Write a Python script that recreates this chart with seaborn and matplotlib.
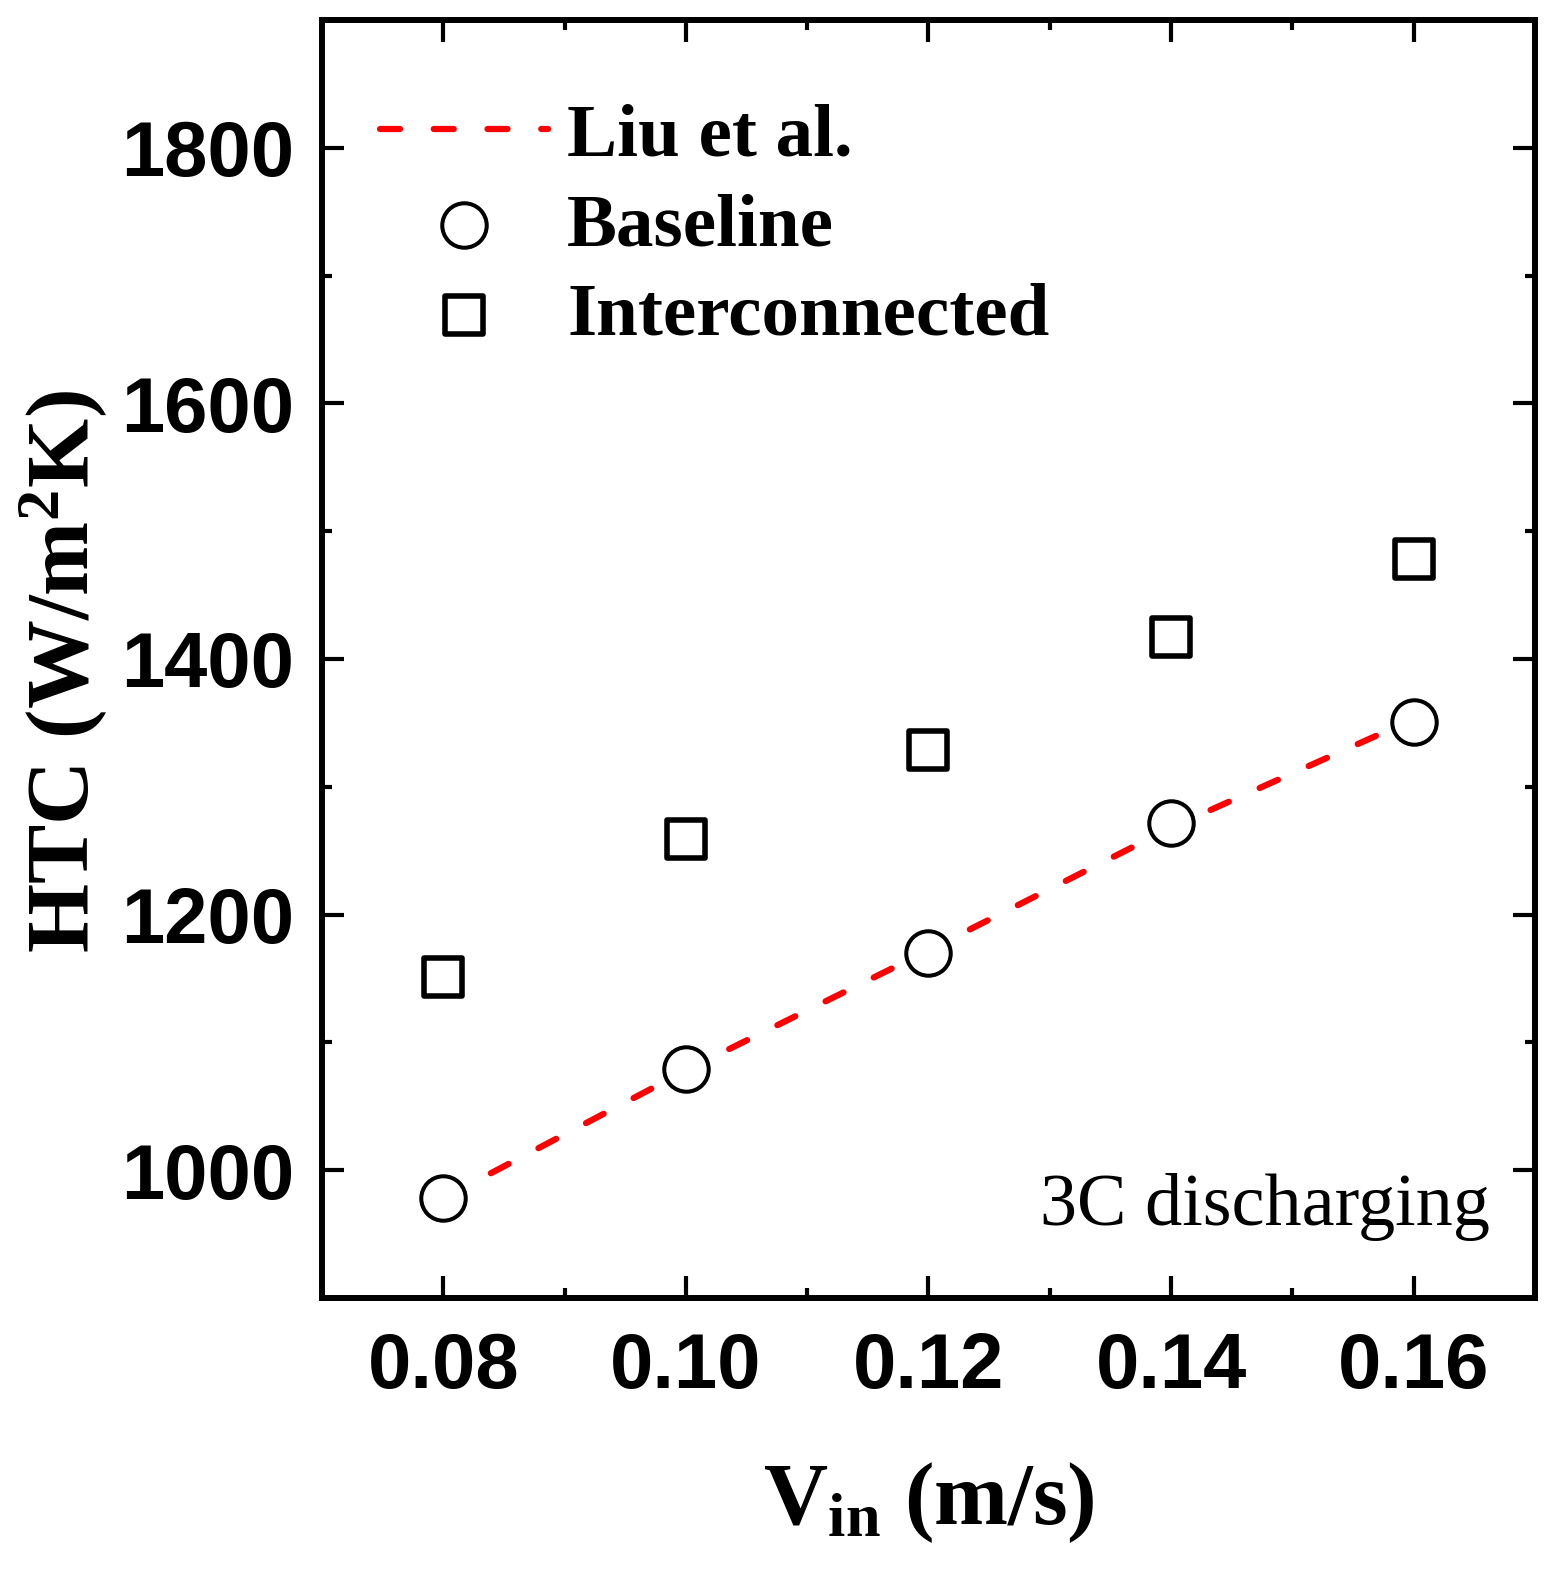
import pandas as pd
import matplotlib
matplotlib.use('Agg')
import matplotlib.pyplot as plt
import seaborn as sns
from matplotlib.ticker import MultipleLocator

# data
v_in = [0.08, 0.10, 0.12, 0.14, 0.16]
htc_liu = [978, 1078, 1172, 1268, 1353]
htc_baseline = [978, 1079, 1170, 1272, 1351]
htc_interconnected = [1151, 1259, 1329, 1417, 1478]
xtick_labels = ['0.08', '0.10', '0.12', '0.14', '0.16']
ytick_values = [1000, 1200, 1400, 1600, 1800]

df = pd.DataFrame({'v': v_in, 'liu': htc_liu,
                   'base': htc_baseline, 'inter': htc_interconnected})

sns.set_style('ticks')
plt.rcParams['font.family'] = ['Liberation Serif', 'DejaVu Serif']
plt.rcParams['text.color'] = 'black'
plt.rcParams['axes.labelcolor'] = 'black'
plt.rcParams['axes.edgecolor'] = 'black'
plt.rcParams['xtick.color'] = 'black'
plt.rcParams['ytick.color'] = 'black'
plt.rcParams['mathtext.fontset'] = 'custom'
plt.rcParams['mathtext.rm'] = 'Liberation Serif:bold'
plt.rcParams['mathtext.it'] = 'Liberation Serif:bold'
plt.rcParams['mathtext.bf'] = 'Liberation Serif:bold'

fig = plt.figure(figsize=(15.58, 15.71), dpi=100)
ax = fig.add_axes([0.2067, 0.1738, 0.9852 - 0.2067, 0.9873 - 0.1738])

# reference line first, markers drawn on top with white fill
sns.lineplot(data=df, x='v', y='liu', ax=ax, color='#ff0000', lw=4.5,
             dashes=False, label='Liu et al.', zorder=2)
liu_line = ax.lines[0]
liu_line.set_dashes((3.2, 5.4))
liu_line.set_dash_capstyle('round')
sns.scatterplot(data=df, x='v', y='base', ax=ax, marker='o', s=32 ** 2,
                facecolor='white', edgecolor='black', linewidth=2.9,
                label='Baseline', zorder=3)
sns.scatterplot(data=df, x='v', y='inter', ax=ax, marker='s', s=28 ** 2,
                facecolor='white', edgecolor='black', linewidth=4,
                label='Interconnected', zorder=3)

ax.set_xlim(0.07, 0.17)
ax.set_ylim(900, 1900)
ax.xaxis.set_minor_locator(MultipleLocator(0.01))
ax.yaxis.set_minor_locator(MultipleLocator(100))
ax.set_yticks(ytick_values)
ax.set_xticks(v_in)
ax.set_xticklabels(xtick_labels)

for s in ax.spines.values():
    s.set_linewidth(4.3)
    s.set_visible(True)
    s.set_color('black')
ax.tick_params(which='both', direction='in', top=True, right=True,
               width=3, color='black')
ax.tick_params(which='major', length=16)
ax.tick_params(axis='y', which='major', pad=20)
ax.tick_params(axis='x', which='major', pad=24)
ax.tick_params(which='minor', length=7)
for lab in ax.get_xticklabels() + ax.get_yticklabels():
    lab.set_family('Liberation Sans')
    lab.set_fontweight('bold')
    lab.set_fontsize(56)
    lab.set_color('black')

ax.set_xlabel(r'$\mathrm{V}_{\mathrm{in}}$ (m/s)', fontsize=64,
              fontweight='bold', labelpad=40)
ax.set_ylabel(r'HTC (W/m$^{2}$K)', fontsize=64, fontweight='bold',
              labelpad=9)
ax.yaxis.label.set_y(0.49)

ax.text(0.963, 0.057, '3C discharging', transform=ax.transAxes,
        ha='right', va='baseline', fontsize=53.5)

leg = ax.legend(loc='upper left', bbox_to_anchor=(0.048, 0.935),
                frameon=False, borderpad=0, borderaxespad=0,
                handlelength=2.24, handletextpad=0.25, labelspacing=0.28,
                prop={'family': 'Liberation Serif', 'weight': 'bold',
                      'size': 54})

fig.savefig('out.png', dpi=100)
